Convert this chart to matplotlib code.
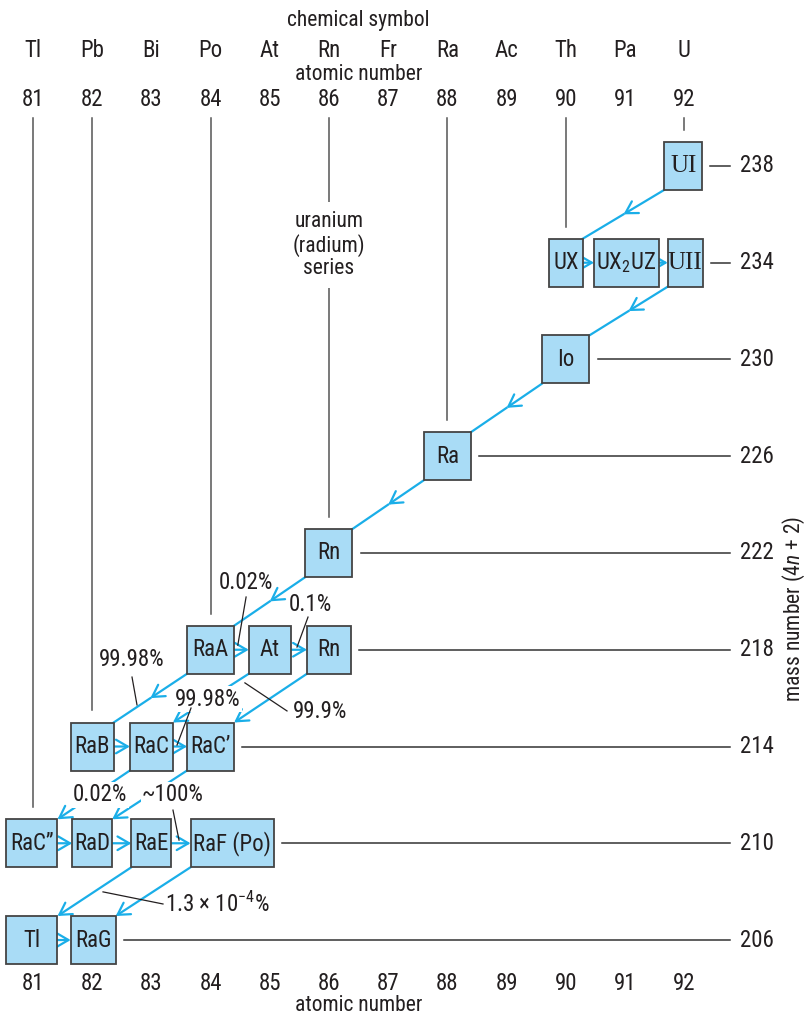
import matplotlib
matplotlib.use('Agg')
import matplotlib.pyplot as plt
from matplotlib import font_manager
from matplotlib.patches import Rectangle

# pick a narrow sans if we have one
names = {f.name for f in font_manager.fontManager.ttflist}
fam = 'Liberation Sans'
for cand in ['Liberation Sans Narrow', 'Roboto Condensed', 'DejaVu Sans Condensed']:
    if cand in names:
        fam = cand
        break
plt.rcParams['font.family'] = [fam, 'DejaVu Sans']
plt.rcParams['mathtext.fontset'] = 'custom'
plt.rcParams['mathtext.rm'] = fam
plt.rcParams['mathtext.it'] = fam + ':italic'

# ---- data ----
Z_numbers = [81, 82, 83, 84, 85, 86, 87, 88, 89, 90, 91, 92]
symbols = ['Tl', 'Pb', 'Bi', 'Po', 'At', 'Rn', 'Fr', 'Ra', 'Ac', 'Th', 'Pa', 'U']
mass_rows = [238, 234, 230, 226, 222, 218, 214, 210, 206]

keys = ['UI', 'UX', 'UXZ', 'UII', 'Io', 'Ra', 'Rn222', 'RaA', 'At', 'Rn218',
        'RaB', 'RaC', 'RaC1', 'RaC2', 'RaD', 'RaE', 'RaF', 'Tl', 'RaG']
labels = ['UI', 'UX', 'UX$_2$UZ', 'UII', 'Io', 'Ra', 'Rn', 'RaA', 'At', 'Rn',
          'RaB', 'RaC', 'RaC\u2019', 'RaC\u201d', 'RaD', 'RaE', 'RaF (Po)', 'Tl', 'RaG']
Z = [92, 90, 91, 92, 90, 88, 86, 84, 85, 86, 82, 83, 84, 81, 82, 83, 84, 81, 82]
A = [238, 234, 234, 234, 230, 226, 222, 218, 218, 218, 214, 214, 214, 210, 210, 210, 210, 206, 206]

alpha_decays = [('UI', 'UX'), ('UII', 'Io'), ('Io', 'Ra'), ('Ra', 'Rn222'),
                ('Rn222', 'RaA'), ('RaA', 'RaB'), ('At', 'RaC'), ('Rn218', 'RaC1'),
                ('RaC', 'RaC2'), ('RaC1', 'RaD'), ('RaE', 'Tl'), ('RaF', 'RaG')]
beta_decays = [('UX', 'UXZ'), ('UXZ', 'UII'), ('RaA', 'At'), ('At', 'Rn218'),
               ('RaB', 'RaC'), ('RaC', 'RaC1'), ('RaC2', 'RaD'), ('RaD', 'RaE'),
               ('RaE', 'RaF'), ('Tl', 'RaG')]
guide_columns = [81, 82, 84, 86, 88, 90, 92]

# ---- layout / style ----
PX_Z = 59.2      # pixels per unit Z
PX_A = 24.19     # pixels per unit mass
box_w_px = {'UI': 38, 'UX': 34, 'UXZ': 65, 'UII': 35, 'RaA': 47, 'At': 42, 'Rn218': 44,
            'RaB': 43, 'RaC': 43, 'RaC2': 51, 'RaD': 40, 'RaE': 40, 'RaF': 83,
            'Tl': 51, 'RaG': 45}
box_dx_px = {'UI': -1, 'UXZ': 1.5, 'UII': 1, 'RaF': 21.5, 'RaC2': -1, 'Tl': -1, 'RaG': 1}
serif_keys = ['UI', 'UII']
mid_head = [True] * 6 + [False] * 6
box_h = 48 / PX_A
blue = '#1aaee8'
fill = '#a9dcf6'
ink = '#231f20'
fs = 16.5
fs_small = 15.5

fig = plt.figure(figsize=(8.07, 10.18), dpi=100)
ax = fig.add_axes([0, 0, 1, 1])
ax.set_xlim(80.443, 80.443 + 807 / PX_Z)
ax.set_ylim(244.86 - 1018 / PX_A, 244.86)
ax.axis('off')

boxes = {}
for k, lab, z, a in zip(keys, labels, Z, A):
    w = box_w_px.get(k, 47) / PX_Z
    xc = z + box_dx_px.get(k, 0) / PX_Z
    xl, xr = xc - w / 2, xc + w / 2
    yb, yt = a - box_h / 2, a + box_h / 2
    boxes[k] = (xl, xr, yb, yt)
    ax.add_patch(Rectangle((xl, yb), w, box_h, facecolor=fill, edgecolor='#444444',
                           lw=1.3, zorder=3))
    if k in serif_keys:
        ax.text(xc, a, lab, ha='center', va='center', fontsize=18, color=ink,
                family=['Liberation Serif'], zorder=4)
    else:
        ax.text(xc, a, lab, ha='center', va='center', fontsize=fs, color=ink, zorder=4)

def arrow(p0, p1, mid=False):
    style = dict(arrowstyle='->,head_length=0.6,head_width=0.35', color=blue, lw=1.6,
                 shrinkA=0, shrinkB=0, mutation_scale=14)
    if mid:
        m = ((p0[0] + p1[0]) / 2, (p0[1] + p1[1]) / 2)
        ax.annotate('', xy=m, xytext=p0, arrowprops=style, zorder=2)
        ax.plot([m[0], p1[0]], [m[1], p1[1]], color=blue, lw=1.6, zorder=2)
    else:
        ax.annotate('', xy=p1, xytext=p0, arrowprops=style, zorder=2)

for (p, d), mh in zip(alpha_decays, mid_head):
    arrow((boxes[p][0], boxes[p][2]), (boxes[d][1], boxes[d][3]), mh)
for p, d in beta_decays:
    y = A[keys.index(p)]
    arrow((boxes[p][1], y), (boxes[d][0], y))

# column guide lines
y_top = 244.86 - 118 / PX_A
for z in guide_columns:
    tops = [boxes[k][3] for k, zz in zip(keys, Z) if zz == z]
    ax.plot([z, z], [y_top, max(tops) + 0.5], color='#555555', lw=1.1, zorder=1)

# row lines and mass labels
x_end = 80.443 + 730 / PX_Z
for a in mass_rows:
    right = max(boxes[k][1] for k, aa in zip(keys, A) if aa == a)
    ax.plot([right + 0.14, x_end], [a, a], color='#333333', lw=1.1, zorder=1)
    ax.text(x_end + 0.17, a, str(a), ha='left', va='center', fontsize=fs, color=ink)

ax.text(93.85, 219.7, 'mass number (4$n$ + 2)', rotation=90, ha='center', va='center',
        fontsize=fs_small, color=ink)

# top and bottom scales
for z, s in zip(Z_numbers, symbols):
    ax.text(z, 242.79, s, ha='center', va='center', fontsize=fs, color=ink)
    ax.text(z, 240.73, str(z), ha='center', va='center', fontsize=fs, color=ink)
    ax.text(z, 204.22, str(z), ha='center', va='center', fontsize=fs, color=ink)
ax.text(86.5, 244.03, 'chemical symbol', ha='center', va='center', fontsize=fs_small, color=ink)
ax.text(86.5, 241.76, 'atomic number', ha='center', va='center', fontsize=fs_small, color=ink)
ax.text(86.5, 203.28, 'atomic number', ha='center', va='center', fontsize=fs_small, color=ink)

ax.text(86.0, 234.73, 'uranium\n(radium)\nseries', ha='center', va='center', fontsize=fs_small,
        color=ink, linespacing=1.1,
        bbox=dict(facecolor='white', edgecolor='none', pad=6), zorder=2)

# branching ratios: (text, x, y, leader from, leader to, white background)
branches = [
    ('0.02%', 84.598, 220.80, (84.60, 220.18), (84.46, 218.19), False),
    ('0.1%', 85.68, 219.89, (85.646, 219.35), (85.46, 218.11), False),
    ('99.98%', 82.673, 217.58, (82.673, 216.87), (82.757, 215.72), False),
    ('99.98%', 83.956, 215.96, (83.67, 215.59), (83.433, 214.06), True),
    ('99.9%', 85.848, 215.43, (85.291, 215.47), (84.58, 216.63), False),
    ('0.02%', 82.132, 212.0, None, None, True),
    ('~100%', 83.365, 212.0, (83.365, 211.37), (83.467, 210.13), True),
]
for t, x, y, l0, l1, bg in branches:
    kw = dict(bbox=dict(facecolor='white', edgecolor='none', pad=1)) if bg else {}
    ax.text(x, y, t, ha='center', va='center', fontsize=fs, color=ink, zorder=5, **kw)
    if l0:
        ax.plot([l0[0], l1[0]], [l0[1], l1[1]], color=ink, lw=0.9, zorder=5)

ax.text(83.23, 207.49, '1.3 \u00d7 10$^{-4}$%', ha='left', va='center', fontsize=fs,
        color=ink, zorder=5)
ax.plot([82.183, 83.196], [207.99, 207.49], color=ink, lw=0.9, zorder=5)

fig.savefig('out.png', dpi=100)
